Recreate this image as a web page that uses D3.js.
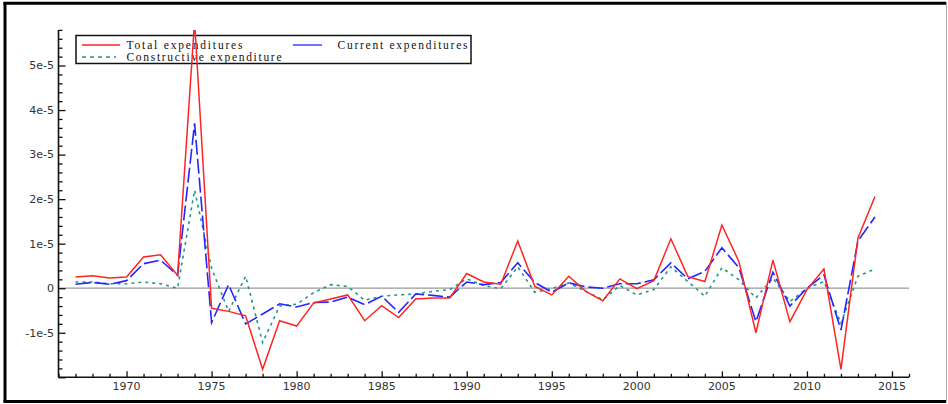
<!DOCTYPE html>
<html>
<head>
<meta charset="utf-8">
<script src="https://cdn.jsdelivr.net/npm/d3@7/dist/d3.min.js"></script>
<style>
  html, body { margin: 0; padding: 0; background: #fff; }
  svg { display: block; }
</style>
</head>
<body>
<svg id="chart" width="948" height="404"></svg>
<script>
// Expenditure series, values in units of 1e-5
const UNIT = 1e-5;
const years = d3.range(1967, 2015);
const totalExp = [
  0.25, 0.28, 0.23, 0.25, 0.70, 0.75, 0.29, 6.00, -0.45, -0.52,
  -0.62, -1.82, -0.73, -0.85, -0.33, -0.24, -0.15, -0.73, -0.39, -0.66,
  -0.24, -0.22, -0.22, 0.33, 0.14, 0.09, 1.06, 0.04, -0.15, 0.27,
  -0.07, -0.28, 0.21, -0.01, 0.17, 1.11, 0.26, 0.15, 1.42, 0.60,
  -1.00, 0.63, -0.75, -0.03, 0.43, -1.82, 1.13, 2.06
];
const currentExp = [
  0.09, 0.13, 0.09, 0.17, 0.55, 0.63, 0.29, 3.70, -0.77, 0.08,
  -0.80, -0.58, -0.35, -0.42, -0.32, -0.31, -0.20, -0.37, -0.18, -0.54,
  -0.13, -0.16, -0.20, 0.14, 0.08, 0.13, 0.57, 0.13, -0.09, 0.12,
  0.03, 0.00, 0.10, 0.10, 0.19, 0.57, 0.21, 0.38, 0.91, 0.46,
  -0.75, 0.36, -0.40, 0.00, 0.30, -0.94, 1.06, 1.60
];
const constructiveExp = [
  0.14, 0.14, 0.10, 0.10, 0.14, 0.10, 0.00, 2.20, 0.45, -0.52,
  0.27, -1.22, -0.40, -0.36, -0.10, 0.08, 0.04, -0.27, -0.18, -0.15,
  -0.13, -0.07, -0.03, 0.21, 0.06, -0.01, 0.48, -0.09, -0.01, 0.12,
  -0.07, -0.26, 0.06, -0.15, -0.03, 0.48, 0.15, -0.18, 0.46, 0.19,
  -0.22, 0.23, -0.30, 0.00, 0.15, -0.79, 0.27, 0.43
];
const seriesNames = ["Total expenditures", "Current expenditures", "Constructive expenditure"];
const xMajorTicks = [1970, 1975, 1980, 1985, 1990, 1995, 2000, 2005, 2010, 2015];
const yMajorTicks = [-1, 0, 1, 2, 3, 4, 5];

const svg = d3.select("#chart");

// outer frame
svg.append("line").attr("x1", 3.5).attr("x2", 946).attr("y1", 3.2).attr("y2", 3.2)
  .attr("stroke", "#000").attr("stroke-width", 3);
svg.append("line").attr("x1", 5).attr("x2", 5).attr("y1", 2).attr("y2", 402)
  .attr("stroke", "#000").attr("stroke-width", 3);
svg.append("line").attr("x1", 3.5).attr("x2", 946).attr("y1", 401.5).attr("y2", 401.5)
  .attr("stroke", "#000").attr("stroke-width", 3);
svg.append("line").attr("x1", 946.5).attr("x2", 946.5).attr("y1", 2).attr("y2", 402)
  .attr("stroke", "#aaa").attr("stroke-width", 1);

const x = d3.scaleLinear().domain([1966, 2016]).range([58.5, 909]);
const y = d3.scaleLinear().domain([-2 * UNIT, 5.8 * UNIT]).range([377.3, 29.9]);

// clip for the series
svg.append("clipPath").attr("id", "plotClip")
  .append("rect").attr("x", 58.5).attr("y", 29.9).attr("width", 850.5).attr("height", 347.4);

// zero reference line
svg.append("line")
  .attr("x1", x(1966)).attr("x2", x(2016))
  .attr("y1", y(0)).attr("y2", y(0))
  .attr("stroke", "#999").attr("stroke-width", 1.2);

// y axis: ticks point inward
const yAxis = d3.axisRight(y)
  .tickValues(d3.range(-20, 59, 2).map(v => v / 10 * UNIT))
  .tickSize(0).tickFormat("");
const gy = svg.append("g").attr("transform", `translate(${x(1966)},0)`).call(yAxis);
gy.select(".domain").remove();
gy.selectAll(".tick line")
  .attr("x2", d => (Math.abs(Math.round(d / UNIT * 10)) % 10 === 0 ? 7 : 4))
  .attr("stroke", "#111").attr("stroke-width", 1.3);
svg.append("line").attr("x1", x(1966)).attr("x2", x(1966))
  .attr("y1", y(5.8 * UNIT)).attr("y2", y(-2 * UNIT))
  .attr("stroke", "#111").attr("stroke-width", 1.6);

const gyLabels = svg.append("g");
gyLabels.selectAll("text").data(yMajorTicks).join("text")
  .attr("x", 54).attr("y", d => y(d * UNIT)).attr("dy", "0.35em")
  .attr("text-anchor", "end")
  .attr("font-family", "DejaVu Sans, sans-serif").attr("font-size", 11)
  .attr("fill", "#333")
  .text(d => (d === 0 ? "0" : `${d}e-5`));

// x axis: ticks point upward
const xAxis = d3.axisTop(x).tickValues(d3.range(1966, 2017)).tickSize(0).tickFormat("");
const gx = svg.append("g").attr("transform", `translate(0,${y(-2 * UNIT)})`).call(xAxis);
gx.select(".domain").remove();
gx.selectAll(".tick line")
  .attr("y2", d => (d % 5 === 0 ? -6 : -3.5))
  .attr("stroke", "#111").attr("stroke-width", 1.3);
svg.append("line").attr("x1", x(1966)).attr("x2", x(2016))
  .attr("y1", y(-2 * UNIT)).attr("y2", y(-2 * UNIT))
  .attr("stroke", "#111").attr("stroke-width", 1.6);

svg.append("g").selectAll("text").data(xMajorTicks).join("text")
  .attr("x", d => x(d)).attr("y", 389.5)
  .attr("text-anchor", "middle")
  .attr("font-family", "DejaVu Sans, sans-serif").attr("font-size", 11)
  .attr("fill", "#333")
  .text(d => d);

// legend
const legend = svg.append("g");
legend.append("rect").attr("x", 76).attr("y", 35.5).attr("width", 395).attr("height", 28)
  .attr("fill", "#fff").attr("stroke", "#111").attr("stroke-width", 1.5);
const legendItems = [
  { name: seriesNames[0], color: "#ff2424", dash: null, lx: [82, 120], ly: 45, tx: 126.5, ty: 49, tw: 116 },
  { name: seriesNames[1], color: "#2424ff", dash: null, lx: [293, 322], ly: 45, tx: 337.5, ty: 49, tw: 130 },
  { name: seriesNames[2], color: "#23958c", dash: "4,4", lx: [82, 116], ly: 57, tx: 126.5, ty: 60.5, tw: 155 }
];
legendItems.forEach(it => {
  legend.append("line").attr("x1", it.lx[0]).attr("x2", it.lx[1])
    .attr("y1", it.ly).attr("y2", it.ly)
    .attr("stroke", it.color).attr("stroke-width", 1.3)
    .attr("stroke-dasharray", it.dash);
  legend.append("text").attr("x", it.tx).attr("y", it.ty)
    .attr("font-family", "Liberation Serif, serif").attr("font-size", 11.5)
    .attr("fill", "#111")
    .attr("textLength", it.tw).attr("lengthAdjust", "spacing")
    .text(it.name);
});

// series lines
const line = d3.line().x(d => x(d[0])).y(d => y(d[1] * UNIT));
const plot = svg.append("g").attr("clip-path", "url(#plotClip)");
const series = [
  { vals: constructiveExp, color: "#23958c", dash: "3,4", w: 1.6 },
  { vals: currentExp, color: "#2424ff", dash: "15,4", w: 1.6 },
  { vals: totalExp, color: "#ff2424", dash: null, w: 1.5 }
];
series.forEach(s => {
  plot.append("path")
    .datum(years.map((yr, i) => [yr, s.vals[i]]))
    .attr("d", line)
    .attr("fill", "none")
    .attr("stroke", s.color)
    .attr("stroke-width", s.w)
    .attr("stroke-dasharray", s.dash)
    .attr("stroke-linejoin", "miter");
});
</script>
</body>
</html>
